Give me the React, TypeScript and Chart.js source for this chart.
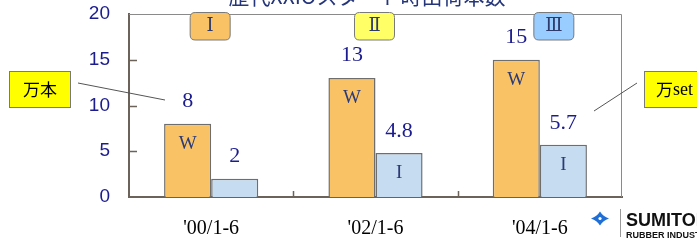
import React, { useEffect, useRef } from "react";
import { Chart, registerables } from "chart.js";

Chart.register(...registerables);

const title = "歴代XXIOスタート時出荷本数";
const categories = ["'00/1-6", "'02/1-6", "'04/1-6"];
const wValues = [8, 13, 15];
const iValues = [2, 4.8, 5.7];
const wLabels = ["8", "13", "15"];
const iLabels = ["2", "4.8", "5.7"];
const generations = ["Ⅰ", "Ⅱ", "Ⅲ"];
const generationColors = ["#f9c265", "#ffff66", "#99ccff"];
const generationOffsets = [-1, -1, 14];
const yMin = 0;
const yMax = 20;
const yStep = 5;

const W_COLOR = "#f9c265";
const I_COLOR = "#c6dcf0";
const NAVY = "#1c1c8f";

function roundRect(ctx: CanvasRenderingContext2D, x: number, y: number, w: number, h: number, r: number) {
  ctx.beginPath();
  ctx.moveTo(x + r, y);
  ctx.lineTo(x + w - r, y);
  ctx.quadraticCurveTo(x + w, y, x + w, y + r);
  ctx.lineTo(x + w, y + h - r);
  ctx.quadraticCurveTo(x + w, y + h, x + w - r, y + h);
  ctx.lineTo(x + r, y + h);
  ctx.quadraticCurveTo(x, y + h, x, y + h - r);
  ctx.lineTo(x, y + r);
  ctx.quadraticCurveTo(x, y, x + r, y);
  ctx.closePath();
}

const overlayPlugin = {
  id: "overlay",
  afterDatasetsDraw(chart: any) {
    const ctx: CanvasRenderingContext2D = chart.ctx;
    const area = chart.chartArea;
    const xs = chart.scales.x;
    const ys = chart.scales.y;
    ctx.save();

    // top and right border
    ctx.strokeStyle = "#8a8a8a";
    ctx.lineWidth = 1;
    ctx.beginPath();
    ctx.moveTo(area.left, area.top + 0.5);
    ctx.lineTo(area.right - 0.5, area.top + 0.5);
    ctx.lineTo(area.right - 0.5, area.bottom);
    ctx.stroke();

    // y inner ticks
    ctx.strokeStyle = "#6b625a";
    ctx.lineWidth = 1.5;
    for (let v = yMin + yStep; v <= yMax - yStep; v += yStep) {
      const y = Math.round(ys.getPixelForValue(v)) + 0.5;
      ctx.beginPath();
      ctx.moveTo(area.left, y);
      ctx.lineTo(area.left + 8, y);
      ctx.stroke();
    }
    // x category boundary ticks
    const catW = (area.right - area.left) / categories.length;
    for (let i = 1; i < categories.length; i++) {
      const x = Math.round(area.left + catW * i) + 0.5;
      ctx.beginPath();
      ctx.moveTo(x, area.bottom);
      ctx.lineTo(x, area.bottom - 6);
      ctx.stroke();
    }

    // value labels and in-bar letters
    const metaW = chart.getDatasetMeta(0);
    const metaI = chart.getDatasetMeta(1);
    ctx.textAlign = "center";
    ctx.textBaseline = "middle";
    for (let i = 0; i < categories.length; i++) {
      const bw = metaW.data[i];
      const bi = metaI.data[i];
      ctx.fillStyle = NAVY;
      ctx.font = "22px 'Liberation Serif'";
      ctx.fillText(wLabels[i], bw.x, bw.y - 23);
      ctx.fillText(iLabels[i], bi.x, bi.y - 22);
      ctx.fillStyle = "#2b3a78";
      ctx.font = "19px 'Liberation Serif'";
      ctx.fillText("W", bw.x, bw.y + 20);
      if (iValues[i] > 3) ctx.fillText("I", bi.x, bi.y + 20);
    }

    // generation boxes
    for (let i = 0; i < categories.length; i++) {
      const cx = xs.getPixelForValue(i) + generationOffsets[i];
      const bx = cx - 20;
      const by = 12.5;
      roundRect(ctx, bx, by, 40, 27.5, 5);
      ctx.fillStyle = generationColors[i];
      ctx.fill();
      ctx.strokeStyle = "#7a7a7a";
      ctx.lineWidth = 1;
      ctx.stroke();
      ctx.fillStyle = "#2d3a6a";
      ctx.font = "18px 'DejaVu Serif', 'Liberation Serif', 'Noto Sans CJK JP'";
      ctx.textAlign = "center";
      ctx.textBaseline = "middle";
      ctx.fillText(generations[i], cx, by + 14);
    }

    // title (cut off at top)
    ctx.fillStyle = "#24357a";
    ctx.font = "21px 'Noto Sans CJK JP'";
    ctx.textAlign = "center";
    ctx.textBaseline = "alphabetic";
    ctx.fillText(title, 367, 4);

    // callout left
    ctx.fillStyle = "#ffff00";
    ctx.fillRect(9.5, 71.5, 61, 36);
    ctx.strokeStyle = "#7a7a7a";
    ctx.lineWidth = 1;
    ctx.strokeRect(9.5, 71.5, 61, 36);
    ctx.fillStyle = "#000";
    ctx.font = "17px 'Noto Sans CJK JP'";
    ctx.textAlign = "center";
    ctx.textBaseline = "middle";
    ctx.fillText("万本", 40, 90);
    ctx.strokeStyle = "#555";
    ctx.beginPath();
    ctx.moveTo(78, 83);
    ctx.lineTo(165, 100);
    ctx.stroke();

    // callout right
    ctx.fillStyle = "#ffff00";
    ctx.fillRect(644.5, 71.5, 60, 36);
    ctx.strokeStyle = "#7a7a7a";
    ctx.strokeRect(644.5, 71.5, 60, 36);
    ctx.fillStyle = "#000";
    ctx.textAlign = "left";
    ctx.font = "17px 'Noto Sans CJK JP'";
    ctx.fillText("万", 656, 90);
    ctx.font = "18px 'Liberation Serif'";
    ctx.fillText("set", 673, 90);
    ctx.strokeStyle = "#555";
    ctx.beginPath();
    ctx.moveTo(594, 111);
    ctx.lineTo(637, 83);
    ctx.stroke();

    // logo
    ctx.fillStyle = "#1f6fd6";
    ctx.beginPath();
    const lx = 600, ly = 218.5;
    ctx.moveTo(lx - 9, ly);
    ctx.quadraticCurveTo(lx - 3, ly - 2, lx, ly - 7);
    ctx.quadraticCurveTo(lx + 3, ly - 2, lx + 9, ly);
    ctx.quadraticCurveTo(lx + 3, ly + 2, lx, ly + 7);
    ctx.quadraticCurveTo(lx - 3, ly + 2, lx - 9, ly);
    ctx.closePath();
    ctx.fill();
    ctx.fillStyle = "#fff";
    ctx.beginPath();
    ctx.arc(lx, ly, 1.6, 0, Math.PI * 2);
    ctx.fill();
    ctx.strokeStyle = "#999";
    ctx.lineWidth = 1;
    ctx.beginPath();
    ctx.moveTo(620.5, 209);
    ctx.lineTo(620.5, 237);
    ctx.stroke();
    ctx.fillStyle = "#111";
    ctx.textAlign = "left";
    ctx.textBaseline = "alphabetic";
    ctx.font = "bold 18px 'Liberation Sans Narrow', 'Liberation Sans'";
    ctx.fillText("SUMITOMO", 626, 226);
    ctx.font = "bold 9px 'Liberation Sans'";
    ctx.fillText("RUBBER INDUSTRIES", 626, 238);

    ctx.restore();
  },
};

export default function App() {
  const ref = useRef<HTMLCanvasElement | null>(null);
  useEffect(() => {
    document.body.style.margin = "0";
    const canvas = ref.current!;
    const chart = new Chart(canvas, {
      type: "bar",
      data: {
        labels: categories,
        datasets: [
          {
            label: "W",
            data: wValues,
            backgroundColor: W_COLOR,
            borderColor: "#6e6e6e",
            borderWidth: 1.5,
            categoryPercentage: 0.573,
            barPercentage: 1,
          },
          {
            label: "I",
            data: iValues,
            backgroundColor: I_COLOR,
            borderColor: "#6e6e6e",
            borderWidth: 1.5,
            categoryPercentage: 0.573,
            barPercentage: 1,
          },
        ],
      },
      options: {
        responsive: false,
        animation: false,
        devicePixelRatio: 1,
        layout: { padding: { left: 0, top: 14, right: 75, bottom: 0 } },
        plugins: { legend: { display: false }, tooltip: { enabled: false }, title: { display: false } },
        scales: {
          x: {
            grid: { display: false, drawTicks: false },
            border: { display: true, color: "#6b625a", width: 2 },
            ticks: { color: "#000", font: { family: "'Liberation Serif'", size: 20 }, padding: 20, maxRotation: 0 },
            afterFit: (s: any) => { s.height = 46; s.paddingLeft = 0; s.paddingRight = 0; },
          },
          y: {
            min: yMin,
            max: yMax,
            grid: { display: false, drawTicks: false },
            border: { display: true, color: "#6b625a", width: 2 },
            ticks: { stepSize: yStep, color: NAVY, font: { family: "'Liberation Sans'", size: 19 }, padding: 19 },
            afterFit: (s: any) => { s.width = 129; s.paddingTop = 0; s.paddingBottom = 0; },
          },
        },
      },
      plugins: [overlayPlugin],
    });
    return () => chart.destroy();
  }, []);
  return (
    <div style={{ position: "absolute", left: 0, top: 0, width: 697, height: 243, background: "#fff" }}>
      <canvas ref={ref} width={697} height={243} style={{ display: "block" }} />
    </div>
  );
}
